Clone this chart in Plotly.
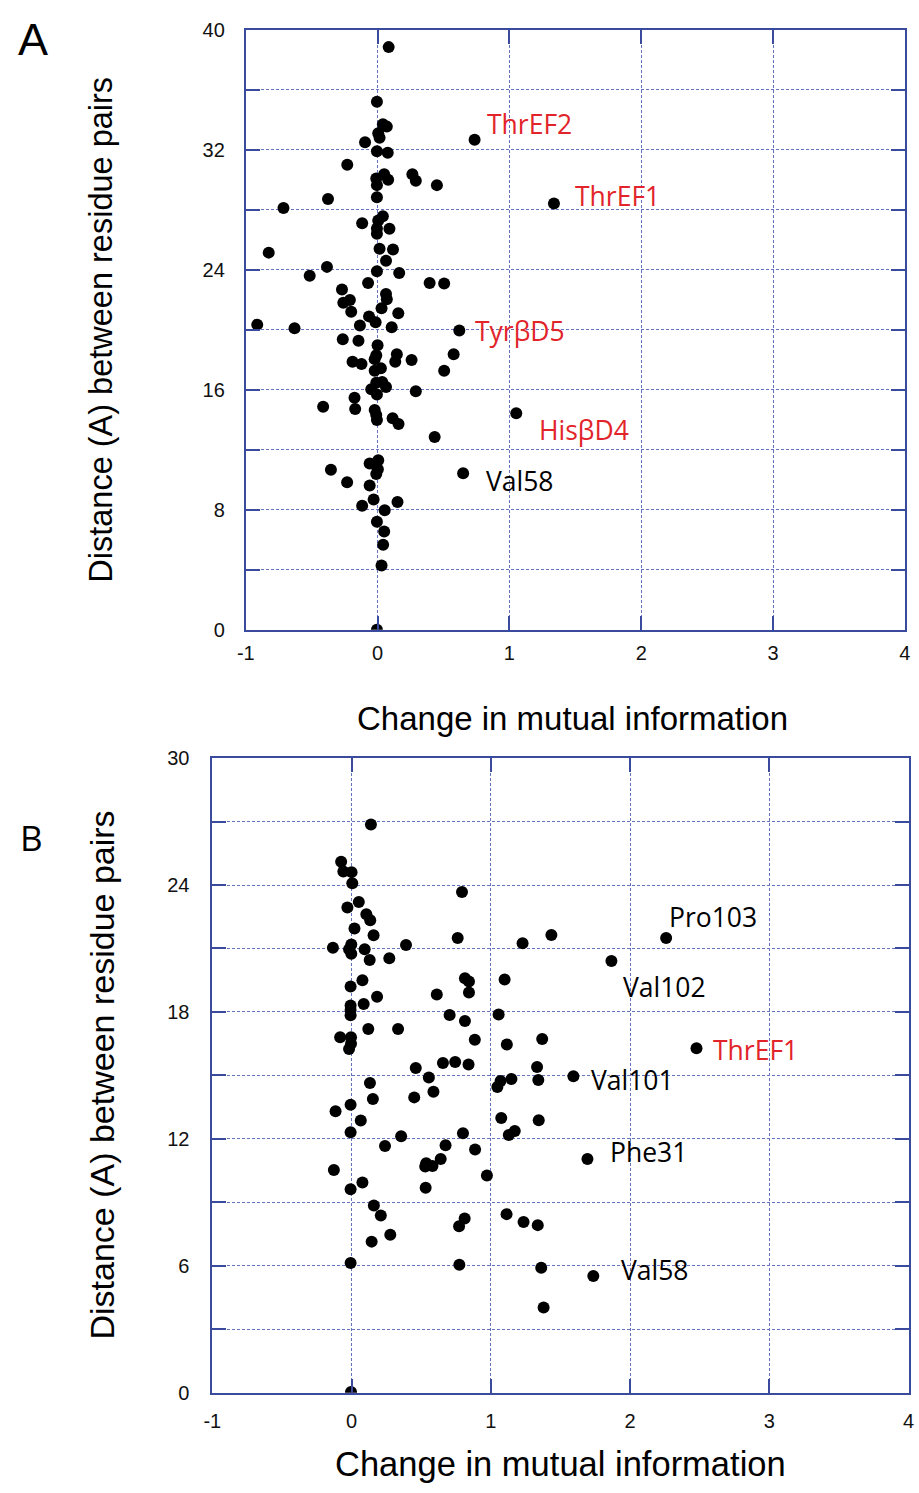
import plotly.graph_objects as go

# ---------------- data: panel A ----------------
a_x = [0.084, -0.005, 0.04, 0.07, 0.005, 0.015, -0.095, 0.736, -0.005, 0.077,
       -0.23, 0.264, 0.29, 0.45, 0.05, -0.01, 0.08, -0.005, -0.005, -0.376,
       1.338, -0.714, 0.04, 0.005, -0.117, 0.09, -0.005, -0.005, -0.826, 0.015,
       0.117, 0.064, -0.384, -0.515, -0.005, 0.164, 0.395, 0.505, -0.072, -0.27,
       0.064, 0.07, -0.26, -0.21, 0.03, -0.2, 0.157, -0.065, -0.015, -0.134,
       0.107, -0.913, -0.63, 0.62, -0.264, -0.145, 0.0, -0.01, -0.022, 0.146,
       0.134, 0.258, 0.577, -0.19, -0.122, 0.505, 0.025, -0.022, 0.035, -0.01,
       0.064, -0.048, -0.005, 0.29, -0.175, -0.413, -0.17, -0.022, -0.005, -0.01,
       0.114, 0.159, 1.052, 0.433, 0.005, -0.06, -0.022, 0.002, -0.01, -0.354,
       0.649, -0.231, -0.06, -0.03, -0.117, 0.151, 0.054, -0.005, 0.05, 0.042,
       0.03, -0.005]
a_y = [38.84, 35.2, 33.7, 33.54, 33.1, 32.8, 32.5, 32.67, 31.9, 31.8,
       31.0, 30.37, 29.93, 29.64, 30.37, 30.08, 30.0, 29.64, 28.83, 28.72,
       28.42, 28.11, 27.57, 27.28, 27.1, 26.73, 26.75, 26.4, 25.14, 25.4,
       25.35, 24.6, 24.19, 23.6, 23.9, 23.78, 23.12, 23.08, 23.12, 22.68,
       22.38, 22.03, 21.8, 21.98, 21.43, 21.2, 21.1, 20.89, 20.5, 20.28,
       20.16, 20.34, 20.1, 19.95, 19.36, 19.27, 18.96, 18.3, 18.04, 18.37,
       17.87, 17.98, 18.37, 17.87, 17.71, 17.27, 17.43, 17.27, 16.51, 16.47,
       16.18, 16.03, 15.68, 15.9, 15.46, 14.87, 14.71, 14.65, 13.99, 14.32,
       14.1, 13.71, 14.43, 12.85, 11.3, 11.08, 11.03, 10.7, 10.38, 10.66,
       10.44, 9.83, 9.61, 8.69, 8.26, 8.52, 7.97, 7.2, 6.55, 5.67,
       4.29, 0.0]

a_labels = ["ThrEF2", "ThrEF1", "TyrβD5", "HisβD4", "Val58"]
a_label_x = [0.855, 1.519, 0.761, 1.246, 0.848]
a_label_y = [33.73, 28.9, 19.92, 13.33, 9.89]
a_label_red = [True, True, True, True, False]

# ---------------- data: panel B ----------------
b_x = [0.139, -0.075, -0.059, 0.0, 0.005, 0.793, 0.052, -0.03, 0.106, 0.134,
       0.021, 0.158, 0.391, -0.134, -0.002, -0.018, -0.002, 0.094, 0.13, 0.271,
       0.762, 1.228, 1.435, 0.814, 0.843, 0.843, 1.099, 0.078, -0.007, 0.183,
       0.612, -0.007, -0.007, -0.007, 0.087, 0.704, 0.814, 1.056, 0.12, 0.334,
       -0.082, -0.004, -0.004, -0.018, 0.885, 1.115, 1.369, 0.461, 0.656, 0.744,
       0.84, 1.332, 0.555, 1.341, 1.148, 1.07, 1.047, 0.132, 0.588, 0.45,
       0.153, -0.007, -0.115, 0.066, 1.075, 1.344, -0.007, 1.172, 1.129, 0.356,
       0.8, 0.24, 0.675, 0.887, 0.64, 0.536, 0.581, 0.529, -0.127, 0.972,
       0.078, -0.007, 0.532, 0.16, 0.21, 1.113, 1.235, 1.337, 0.812, 0.772,
       0.278, 0.144, -0.007, 0.774, 1.362, 1.379, -0.004,
       2.259, 1.866, 2.477, 1.593, 1.694, 1.736]
b_y = [26.86, 25.1, 24.64, 24.61, 24.08, 23.67, 23.2, 22.94, 22.62, 22.34,
       21.94, 21.63, 21.17, 21.03, 21.19, 20.96, 20.75, 20.96, 20.45, 20.54,
       21.5, 21.25, 21.64, 19.59, 19.44, 18.92, 19.53, 19.5, 19.2, 18.72,
       18.82, 18.3, 18.09, 17.84, 18.38, 17.85, 17.57, 17.88, 17.19, 17.19,
       16.8, 16.8, 16.49, 16.25, 16.69, 16.46, 16.72, 15.35, 15.58, 15.63,
       15.52, 15.4, 14.9, 14.78, 14.83, 14.73, 14.45, 14.64, 14.23, 13.96,
       13.88, 13.61, 13.3, 12.87, 12.98, 12.88, 12.31, 12.37, 12.18, 12.12,
       12.26, 11.66, 11.7, 11.5, 11.05, 10.85, 10.71, 10.69, 10.53, 10.27,
       9.93, 9.62, 9.69, 8.85, 8.38, 8.44, 8.07, 7.92, 8.23, 7.87,
       7.47, 7.14, 6.13, 6.05, 5.9, 4.02, 0.03,
       21.5, 20.41, 16.28, 14.96, 11.05, 5.51]

b_labels = ["Pro103", "Val102", "ThrEF1", "Val101", "Phe31", "Val58"]
b_label_x = [2.29, 1.953, 2.604, 1.729, 1.866, 1.941]
b_label_y = [22.51, 19.2, 16.22, 14.78, 11.4, 5.81]
b_label_red = [False, False, True, False, False, False]

# ---------------- axes ----------------
x_tickvals = [-1, 0, 1, 2, 3, 4]
x_ticktext = ["-1", "0", "1", "2", "3", "4"]
a_y_tickvals = [0, 4, 8, 12, 16, 20, 24, 28, 32, 36, 40]
a_y_ticktext = ["0", "", "8", "", "16", "", "24", "", "32", "", "40"]
b_y_tickvals = [0, 3, 6, 9, 12, 15, 18, 21, 24, 27, 30]
b_y_ticktext = ["0", "", "6", "", "12", "", "18", "", "24", "", "30"]

x_title = "Change in mutual information"
y_title = "Distance (A) between residue pairs"

# ---------------- styling ----------------
W, H = 919, 1493
AXIS_BLUE = "#3a4a9c"
GRID_BLUE = "#6473bd"
RED = "#e2232a"
TICK_FONT = dict(family="Liberation Sans, Arial, sans-serif", size=20, color="#111111")
TITLE_FONT = "Liberation Sans, Arial, sans-serif"
LABEL_FONT = "Open Sans, Noto Sans, sans-serif"


def px(xp):
    return xp / W


def py(yp):
    return 1 - yp / H


fig = go.Figure()
fig.add_trace(go.Scatter(x=a_x, y=a_y, mode="markers", xaxis="x", yaxis="y",
                         marker=dict(color="black", size=12), showlegend=False))
fig.add_trace(go.Scatter(x=b_x, y=b_y, mode="markers", xaxis="x2", yaxis="y2",
                         marker=dict(color="black", size=12), showlegend=False))

common_axis = dict(
    showline=True, linecolor=AXIS_BLUE, linewidth=1.8, mirror="ticks",
    ticks="inside", ticklen=14, tickcolor=AXIS_BLUE, tickwidth=1.8,
    showgrid=True, gridcolor=GRID_BLUE, gridwidth=1.1, griddash="3px,2px",
    zeroline=False, tickfont=TICK_FONT, fixedrange=True,
    ticklabeloverflow="allow",
)

fig.update_layout(
    width=W, height=H, autosize=False,
    margin=dict(l=0, r=0, t=0, b=0),
    paper_bgcolor="white", plot_bgcolor="white",
    xaxis=dict(common_axis, domain=[px(240.7), px(910.7)], range=[-1, 4],
               tickvals=x_tickvals, ticktext=x_ticktext, anchor="y",
               ticklabelstandoff=4),
    yaxis=dict(common_axis, domain=[py(628), py(19)], range=[0, 40],
               tickvals=a_y_tickvals, ticktext=a_y_ticktext, anchor="x",
               ticklabelstandoff=15),
    xaxis2=dict(common_axis, domain=[px(206.7), px(914.5)], range=[-1, 4],
                tickvals=x_tickvals, ticktext=x_ticktext, anchor="y2",
                ticklabelstandoff=9),
    yaxis2=dict(common_axis, domain=[py(1402.3), py(758.3)], range=[0, 30],
                tickvals=b_y_tickvals, ticktext=b_y_ticktext, anchor="x2",
                ticklabelstandoff=17),
)

annotations = []
for t, lx, ly, red in zip(a_labels, a_label_x, a_label_y, a_label_red):
    annotations.append(dict(text=t, x=lx, y=ly, xref="x", yref="y", xshift=-5,
                            xanchor="left", yanchor="middle", showarrow=False,
                            font=dict(family=LABEL_FONT, size=26.5,
                                      color=RED if red else "black")))
for t, lx, ly, red in zip(b_labels, b_label_x, b_label_y, b_label_red):
    annotations.append(dict(text=t, x=lx, y=ly, xref="x2", yref="y2", xshift=-3,
                            xanchor="left", yanchor="middle", showarrow=False,
                            font=dict(family=LABEL_FONT, size=26.5,
                                      color=RED if red else "black")))

# axis titles and panel letters
annotations += [
    dict(text=x_title, x=px(573), y=py(718), xref="paper", yref="paper",
         xanchor="center", yanchor="middle", showarrow=False,
         font=dict(family=TITLE_FONT, size=33, color="black")),
    dict(text=x_title, x=px(561), y=py(1475), xref="paper", yref="paper",
         xanchor="center", yanchor="middle", showarrow=False,
         font=dict(family=TITLE_FONT, size=34.5, color="black")),
    dict(text=y_title, x=px(94), y=py(323), xref="paper", yref="paper",
         xanchor="center", yanchor="middle", showarrow=False, textangle=-90,
         font=dict(family=TITLE_FONT, size=32.5, color="black")),
    dict(text=y_title, x=px(95), y=py(1080), xref="paper", yref="paper",
         xanchor="center", yanchor="middle", showarrow=False, textangle=-90,
         font=dict(family=TITLE_FONT, size=34, color="black")),
    dict(text="A", x=px(24), y=py(29), xref="paper", yref="paper",
         xanchor="center", yanchor="middle", showarrow=False,
         font=dict(family=TITLE_FONT, size=45, color="black")),
    dict(text="B", x=px(23), y=py(839), xref="paper", yref="paper",
         xanchor="center", yanchor="middle", showarrow=False,
         font=dict(family=LABEL_FONT, size=35, color="black")),
]
fig.update_layout(annotations=annotations)

# the figure fills the whole window: drop the browser's default page margin
fig.write_html("out.html", config={"displayModeBar": False},
               post_script="document.body.style.margin='0px';")

with open("out.html", "r", encoding="utf-8") as f:
    html = f.read()
html = html.replace(
    "<head>",
    "<head><style>html,body{margin:0;padding:0;overflow:hidden;}</style>",
    1,
)
with open("out.html", "w", encoding="utf-8") as f:
    f.write(html)
